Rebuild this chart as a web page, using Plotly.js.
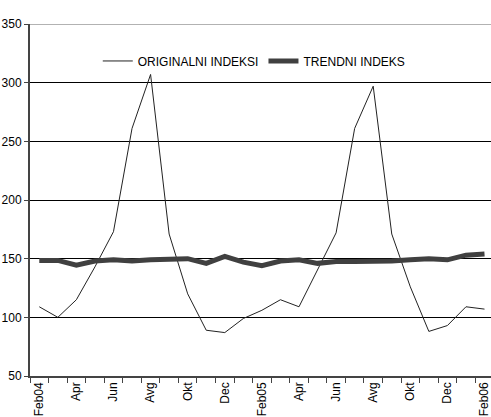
<!DOCTYPE html>
<html><head><meta charset="utf-8">
<script src="https://cdn.plot.ly/plotly-3.0.1.min.js"></script>
<style>html,body{margin:0;padding:0;background:#fff}#chart{width:491px;height:417px}</style>
</head><body><div id="chart"></div>
<script>
const months = ['Feb04','Mar','Apr','Maj','Jun','Jul','Avg','Sep','Okt','Nov','Dec','Jan',
                'Feb05','Mar','Apr','Maj','Jun','Jul','Avg','Sep','Okt','Nov','Dec','Jan','Feb06'];
const original = [109,100,115,143,173,261,307,171,120,89,87,99,
                  106,115,109,141,172,261,297,171,126,88,93,109,107];
const trend = [148.5,148.5,144.5,148,149,148,149,150,150,146,152,147,
               144,148,149,146,147.5,147.5,147.5,148,149,150,149,153,154];
const seriesNames = ['ORIGINALNI INDEKSI','TRENDNI INDEKS'];

const idx = months.map((m,i)=>i);
const labelIdx = idx.filter(i=>i%2===0);
const labelText = labelIdx.map(i=>months[i]);

const font = {family:'Liberation Sans, Arial, sans-serif', size:12, color:'#000'};

const data = [
  {x:idx, y:original, name:seriesNames[0], type:'scatter', mode:'lines',
   line:{color:'#222', width:1}},
  {x:idx, y:trend, name:seriesNames[1], type:'scatter', mode:'lines',
   line:{color:'#404040', width:5}}
];
const layout = {
  width:491, height:417,
  margin:{l:30, r:0, t:24, b:41, pad:0},
  paper_bgcolor:'#fff', plot_bgcolor:'#fff',
  font:font,
  showlegend:true,
  legend:{orientation:'h', x:0.147, y:0.895, xanchor:'left', yanchor:'middle',
          bgcolor:'rgba(0,0,0,0)', font:font, itemwidth:30, tracegroupgap:0},
  xaxis:{range:[-0.5,24.35], tickmode:'array', tickvals:labelIdx, ticktext:labelText,
         tickangle:-90, ticks:'', showgrid:false, zeroline:false, ticklabeloverflow:'allow',
         showline:true, linecolor:'#444', linewidth:1.5, tickfont:font,
         minor:{tickmode:'linear', tick0:-0.5, dtick:1, ticks:'outside', ticklen:5,
                tickcolor:'#444', tickwidth:1, showgrid:false}},
  yaxis:{range:[50,350], tickmode:'array', tickvals:[50,100,150,200,250,300,350],
         ticks:'outside', ticklen:4, tickcolor:'#444', showgrid:true, gridcolor:'#000',
         gridwidth:1, zeroline:false, showline:true, linecolor:'#444', linewidth:2,
         tickfont:font},
  shapes:[{type:'line', xref:'paper', yref:'y', x0:0, x1:1, y0:350, y1:350,
           line:{color:'#999', width:1.5}}]
};
Plotly.newPlot('chart', data, layout, {displayModeBar:false, staticPlot:true});
</script></body></html>
